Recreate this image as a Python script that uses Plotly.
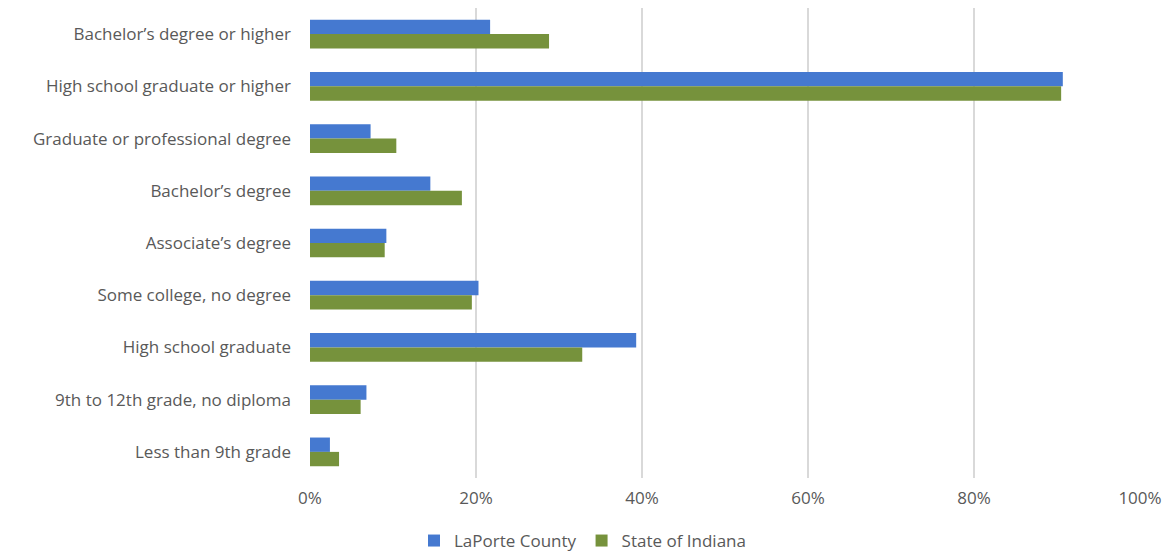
import plotly.graph_objects as go

categories = [
    "Bachelor\u2019s degree or higher",
    "High school graduate or higher",
    "Graduate or professional degree",
    "Bachelor\u2019s degree",
    "Associate\u2019s degree",
    "Some college, no degree",
    "High school graduate",
    "9th to 12th grade, no diploma",
    "Less than 9th grade",
]
laporte = [21.7, 90.7, 7.3, 14.5, 9.2, 20.3, 39.3, 6.8, 2.4]
indiana = [28.8, 90.5, 10.4, 18.3, 9.0, 19.5, 32.8, 6.1, 3.5]
series_names = ["LaPorte County", "State of Indiana"]
tick_vals = [0, 20, 40, 60, 80, 100]
tick_text = ["0%", "20%", "40%", "60%", "80%", "100%"]

BLUE = "#4579d0"
GREEN = "#76923c"
TXT = "#595959"
FONT = "Open Sans"

fig = go.Figure()
fig.add_trace(go.Bar(y=categories, x=laporte, name=series_names[0], orientation="h",
                     marker=dict(color=BLUE, line=dict(width=0))))
fig.add_trace(go.Bar(y=categories, x=indiana, name=series_names[1], orientation="h",
                     marker=dict(color=GREEN, line=dict(width=0))))

fig.update_layout(
    width=1172, height=556,
    margin=dict(l=310, r=32, t=8, b=78, autoexpand=False),
    paper_bgcolor="white", plot_bgcolor="white",
    barmode="group", bargap=0.45, bargroupgap=0,
    font=dict(family=FONT, size=17, color=TXT),
    legend=dict(orientation="h", xref="container", yref="container",
                x=0.497, xanchor="center", y=0.027, yanchor="middle",
                font=dict(family=FONT, size=17, color=TXT), itemwidth=30,
                tracegroupgap=0),
    xaxis=dict(range=[0, 100], tickvals=tick_vals, ticktext=tick_text,
               showgrid=True, gridcolor="#d9d9d9", gridwidth=1.5,
               zeroline=False, showline=False, ticks="",
               ticklabelstandoff=8, automargin=False,
               tickfont=dict(family=FONT, size=17, color=TXT)),
    yaxis=dict(autorange="reversed", showgrid=False, showline=False, ticks="",
               ticklabelstandoff=18, automargin=False,
               tickfont=dict(family=FONT, size=17, color=TXT)),
)

fig.write_html("out.html")
